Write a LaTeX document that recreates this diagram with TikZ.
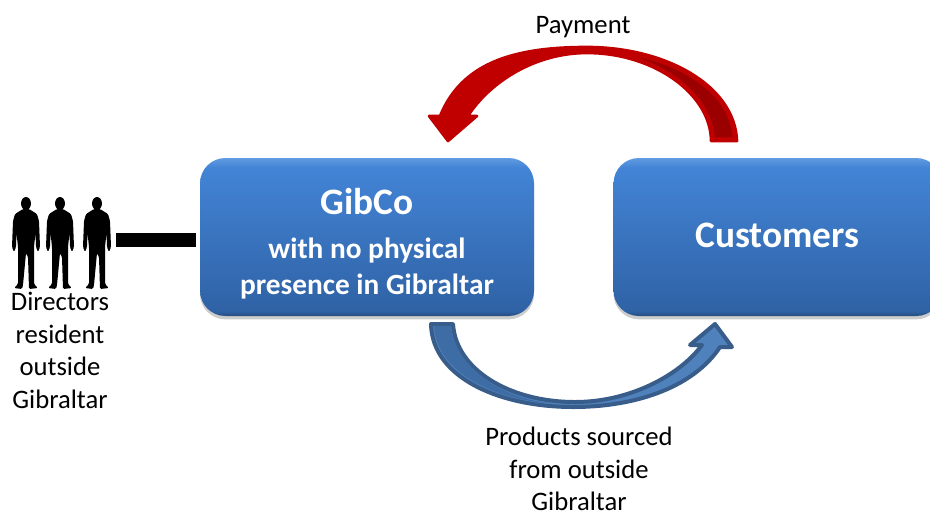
\documentclass[tikz,border=0pt]{standalone}
\usepackage{fontspec}
\setmainfont{Carlito}
\usetikzlibrary{positioning, shadows}
\definecolor{payRed}{RGB}{192, 0, 0}
\definecolor{payDark}{RGB}{155, 0, 0}
\definecolor{prodBlue}{RGB}{79, 129, 189}
\definecolor{prodMid}{RGB}{62, 108, 165}
\definecolor{prodEdge}{RGB}{56, 93, 138}
\definecolor{boxRim}{RGB}{38, 76, 125}
\definecolor{boxLow}{RGB}{47, 98, 165}
\definecolor{boxHigh}{RGB}{67, 132, 214}
\definecolor{boxTop}{RGB}{96, 156, 226}
\pgfdeclareverticalshading{boxshade}{100bp}{color(0bp)=(boxRim); color(25bp)=(boxRim); color(26.5bp)=(boxLow); color(72bp)=(boxHigh); color(75bp)=(boxTop); color(100bp)=(boxTop)}

\begin{document}
\begin{tikzpicture}[
    x=0.75pt, y=0.75pt,
    node distance=59.25pt,
    font=\fontsize{20}{24.4}\selectfont,
    % Styles
    company/.style={
        shading=boxshade, rounded corners=19pt, minimum height=118.5pt,
        align=center, text=white, font=\bfseries\fontsize{22}{27}\selectfont,
        drop shadow={shadow xshift=0pt, shadow yshift=-2.5pt, opacity=0.2, fill=black}
    },
    caption/.style={align=center, inner sep=0pt},
    tie/.style={line width=10.5pt, shorten >=3pt},
    person/.pic={
        \fill (0,-6.5) ellipse [x radius=5, y radius=6.5];
        \fill[rounded corners=1pt] (-3,-12) -- (3,-12) -- (11,-17) -- (13,-24) -- (14,-50) -- (12,-55) -- (10,-50)
            -- (9.5,-36) -- (8,-50) -- (8,-87) -- (12,-91) -- (3,-92) -- (2,-60) -- (0,-56) -- (-3,-88) -- (-4,-92) -- (-12,-91) -- (-8,-87)
            -- (-8,-50) -- (-9.5,-36) -- (-10,-50) -- (-12,-55) -- (-14,-50) -- (-13,-24) -- (-11,-17) -- cycle;
    }
]
    \clip (0,0) rectangle (930,-511);

    % --- 1. The two boxes ---
    \node[company, minimum width=250.5pt] (gibco) at (367,-237) {\rule{0pt}{29pt}{\fontsize{28}{34}\selectfont GibCo}\\[6pt]with no physical\\presence in Gibraltar};
    \node[company, minimum width=246pt, right=of gibco] (customers) {\raisebox{2pt}{\fontsize{28}{34}\selectfont Customers}};

    % --- 2. Directors ---
    \pic at (26,-197) {person};
    \pic at (60,-197) {person};
    \pic at (97,-197) {person};
    \coordinate (directors) at (116,-240);
    \node[caption, anchor=north] (directorsText) at (60,-292) {Directors\\resident\\outside\\Gibraltar};
    \draw[tie] (directors) -- (directors -| gibco.west);

    % --- 3. Payment arrow ---
    \filldraw[payRed, line width=2pt, line join=round]
        (737,-141) .. controls (735,-85) and (665,-47) .. (587,-47)
        .. controls (515,-47) and (462,-62) .. (440,-116) -- (429,-116) -- (448,-141) -- (477,-116) -- (468,-116)
        .. controls (490,-82) and (535,-53) .. (587,-53)
        .. controls (655,-53) and (711,-95) .. (711,-141) -- cycle;
    \fill[payDark] (637,-57) .. controls (690,-68) and (731,-100) .. (732,-137) -- (715,-137)
        .. controls (711,-100) and (680,-72) .. (637,-57) -- cycle;
    \node[caption] (payment) at (583,-27) {Payment};

    % --- 4. Products arrow ---
    \filldraw[fill=prodBlue, draw=prodEdge, line width=3pt, line join=round]
        (431,-324) .. controls (432,-378) and (500,-407) .. (573,-407)
        .. controls (640,-407) and (695,-385) .. (720,-347) -- (732,-347) -- (715,-324) -- (690,-345) -- (702,-345)
        .. controls (680,-375) and (630,-402) .. (575,-402)
        .. controls (510,-402) and (456,-370) .. (453,-324) -- cycle;
    \fill[prodMid] (434,-326) .. controls (436,-372) and (495,-400) .. (550,-403)
        .. controls (505,-399) and (455,-370) .. (451,-326) -- cycle;
    \node[caption, anchor=north] (products) at (579,-427) {Products sourced\\from outside\\Gibraltar};
\end{tikzpicture}
\end{document}
